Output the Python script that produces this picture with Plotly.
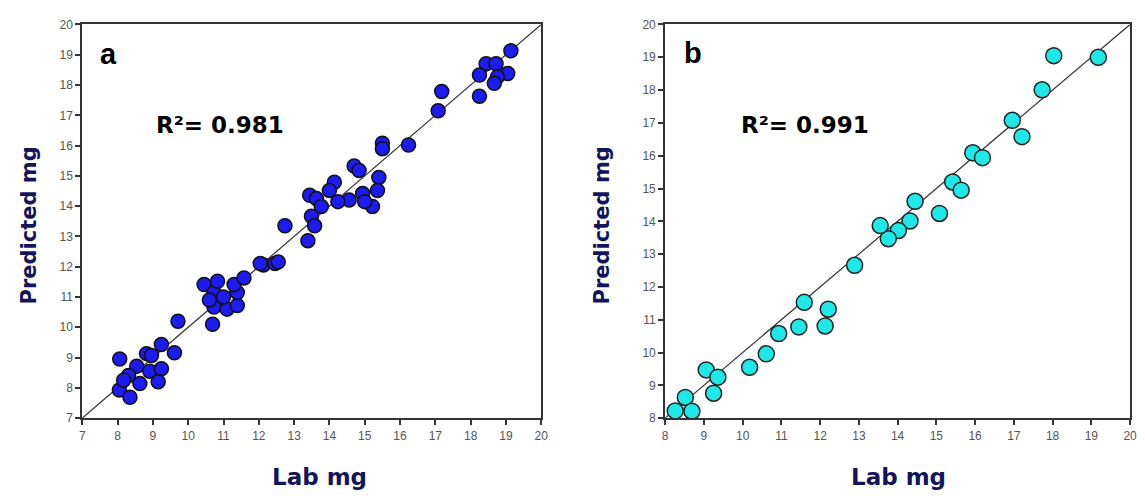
import plotly.graph_objects as go

# Panel a data (Lab mg vs Predicted mg)
lab_a = [8.06, 9.71, 9.24, 9.61, 8.82, 8.96, 8.54, 8.91, 9.24, 8.31, 8.63, 9.15, 8.05, 8.35, 8.17,
         10.45, 10.73, 10.83, 10.73, 10.69, 11.10, 11.39, 11.39, 11.30, 11.58, 12.13, 12.46, 11.0, 10.6,
         15.5, 15.5, 14.7, 14.84, 14.14, 14.0, 15.4, 15.36, 14.94, 14.56, 14.24, 15.22, 15.0, 13.44,
         13.63, 13.77, 13.49, 13.58, 13.39, 12.74, 12.04, 12.55,
         19.14, 18.44, 18.72, 19.05, 18.76, 18.25, 18.67, 18.25, 17.18, 17.08, 16.24]
pred_a = [8.95, 10.2, 9.43, 9.16, 9.13, 9.07, 8.71, 8.55, 8.63, 8.41, 8.14, 8.2, 7.93, 7.69, 8.25,
          11.41, 11.15, 11.52, 10.67, 10.1, 10.6, 10.72, 11.15, 11.41, 11.63, 12.06, 12.11, 11.0, 10.9,
          16.08, 15.9, 15.33, 15.18, 14.79, 14.52, 14.95, 14.52, 14.42, 14.2, 14.15, 13.99, 14.15, 14.36,
          14.25, 13.99, 13.67, 13.35, 12.86, 13.35, 12.11, 12.16,
          19.13, 18.7, 18.7, 18.38, 18.27, 18.33, 18.06, 17.63, 17.79, 17.15, 16.02]

# Panel b data
lab_b = [8.26, 8.52, 8.69, 9.06, 9.36, 9.25, 10.18, 10.61, 10.93, 11.45, 11.59, 12.13, 12.21, 12.89,
         18.03, 19.18, 17.73, 16.96, 17.21, 15.94, 16.19, 15.42, 15.64, 15.08, 14.45, 14.32, 14.02, 13.76, 13.55]
pred_b = [8.22, 8.63, 8.21, 9.47, 9.25, 8.76, 9.55, 9.96, 10.58, 10.78, 11.53, 10.81, 11.32, 12.66,
          19.05, 19.0, 18.01, 17.08, 16.58, 16.09, 15.94, 15.2, 14.95, 14.24, 14.61, 14.01, 13.72, 13.47, 13.87]

ticks_a = list(range(7, 21))
ticks_b = list(range(8, 21))

W, H = 1145, 499
def px(x):
    return x / W
def py(y):
    return 1 - y / H

fig = go.Figure()

# identity lines
fig.add_trace(go.Scatter(x=[7, 20], y=[7, 20], mode="lines", line=dict(color="#333", width=1.2),
                         xaxis="x", yaxis="y", showlegend=False, hoverinfo="skip"))
fig.add_trace(go.Scatter(x=[8, 20], y=[8, 20], mode="lines", line=dict(color="#333", width=1.2),
                         xaxis="x2", yaxis="y2", showlegend=False, hoverinfo="skip"))

fig.add_trace(go.Scatter(x=lab_a, y=pred_a, mode="markers", xaxis="x", yaxis="y", showlegend=False,
                         marker=dict(size=14, color="#1c1cf0", line=dict(color="#111", width=1.5))))
fig.add_trace(go.Scatter(x=lab_b, y=pred_b, mode="markers", xaxis="x2", yaxis="y2", showlegend=False,
                         marker=dict(size=16, color="#1ee8e8", line=dict(color="#222", width=1.5))))

tickfont = dict(family="Liberation Sans", size=12, color="#555")
common = dict(showgrid=False, zeroline=False, showline=True, linecolor="#333", linewidth=2, mirror=True,
              ticks="outside", ticklen=5, tickcolor="#333", tickwidth=1.5, tickfont=tickfont)

fig.update_layout(
    width=W, height=H,
    margin=dict(l=0, r=0, t=0, b=0),
    paper_bgcolor="white", plot_bgcolor="white",
    xaxis=dict(domain=[px(80), px(543)], range=[7, 20], tickvals=ticks_a, anchor="y", **common),
    yaxis=dict(domain=[py(423), py(18)], range=[7, 20], tickvals=ticks_a, anchor="x", **common),
    xaxis2=dict(domain=[px(668), px(1137)], range=[8, 20], tickvals=ticks_b, anchor="y2", **common),
    yaxis2=dict(domain=[py(423), py(18)], range=[8, 20], tickvals=ticks_b, anchor="x2", **common),
)

ytitle_font = dict(family="DejaVu Sans", size=21, color="#14145a")
xtitle_font = dict(family="DejaVu Sans", size=23, color="#14145a")
label_font = dict(family="Liberation Sans", size=29, color="black")
r2_font = dict(family="DejaVu Sans", size=23, color="black")
annots = [
    dict(text="<b>Predicted mg</b>", x=px(26), y=py(225), textangle=-90, font=ytitle_font),
    dict(text="<b>Predicted mg</b>", x=px(604), y=py(225), textangle=-90, font=ytitle_font),
    dict(text="<b>Lab mg</b>", x=px(319), y=py(484), font=xtitle_font),
    dict(text="<b>Lab mg</b>", x=px(903), y=py(484), font=xtitle_font),
    dict(text="<b>a</b>", x=px(106), y=py(48), font=label_font),
    dict(text="<b>b</b>", x=px(696), y=py(47), font=label_font),
    dict(text="<b>R²= 0.981</b>", x=px(219), y=py(121), font=r2_font),
    dict(text="<b>R²= 0.991</b>", x=px(809), y=py(121), font=r2_font),
]
for a in annots:
    a.update(xref="paper", yref="paper", showarrow=False, xanchor="center", yanchor="middle")
    fig.add_annotation(**a)

fig.write_html("out.html")
